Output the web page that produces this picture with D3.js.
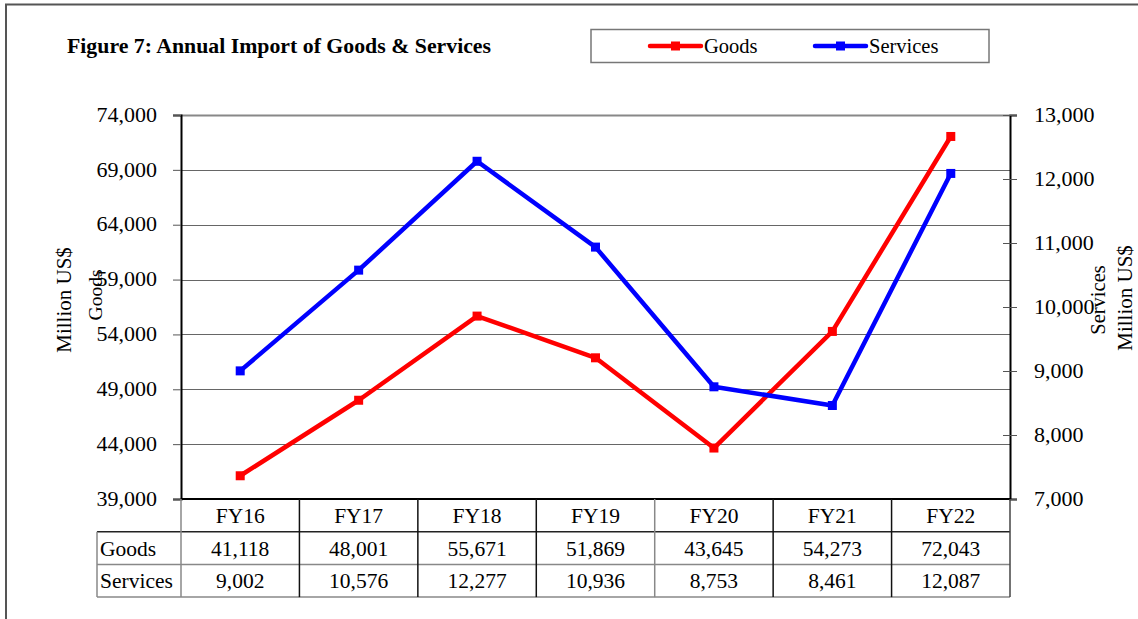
<!DOCTYPE html>
<html>
<head>
<meta charset="utf-8">
<script src="https://cdn.jsdelivr.net/npm/d3@7"></script>
<style>
  body { margin: 0; background: #fff; }
  svg { display: block; font-family: "Liberation Serif", "Times New Roman", serif; }
</style>
</head>
<body>
<svg id="chart" width="1138" height="619"></svg>
<script>
// data
const years = ["FY16", "FY17", "FY18", "FY19", "FY20", "FY21", "FY22"];
const goods = [41118, 48001, 55671, 51869, 43645, 54273, 72043];
const services = [9002, 10576, 12277, 10936, 8753, 8461, 12087];
const goodsTicks = [39000, 44000, 49000, 54000, 59000, 64000, 69000, 74000];
const servicesTicks = [7000, 8000, 9000, 10000, 11000, 12000, 13000];

const format = d3.format(",d");

//plot box
const plotLeft = 181, plotRight = 1010, plotTop = 115, plotBottom = 499;
const rowH = 32.7;
const fs = 21.5;

const svg = d3.select("#chart");

// outer frame (only top + left visible)
svg.append("path")
  .attr("d", "M6,619V4.5H1138")
  .attr("fill", "none").attr("stroke", "#555").attr("stroke-width", 2);

svg.append("text")
  .attr("x", 67).attr("y", 53)
  .attr("font-size", 21.8).attr("font-weight", "bold")
  .text("Figure 7: Annual Import of Goods & Services");

//scales
const x = d3.scaleBand().domain(years).range([plotLeft, plotRight]);
const yG = d3.scaleLinear().domain([39000, 74000]).range([plotBottom, plotTop]);
const yS = d3.scaleLinear().domain([7000, 13000]).range([plotBottom, plotTop]);

// gridlines
svg.append("g").selectAll("line")
  .data(goodsTicks.slice(1))
  .join("line")
  .attr("x1", plotLeft).attr("x2", plotRight)
  .attr("y1", d => Math.round(yG(d)) + 0.5).attr("y2", d => Math.round(yG(d)) + 0.5)
  .attr("stroke", d => d === 74000 ? "#888" : "#666")
  .attr("stroke-width", d => d === 74000 ? 2 : 1);

// left axis
const axL = svg.append("g")
  .attr("transform", `translate(${plotLeft},0)`)
  .call(d3.axisLeft(yG).tickValues(goodsTicks).tickFormat(format).tickSize(8).tickPadding(16));
axL.select(".domain").attr("stroke", "#000").attr("stroke-width", 2);
axL.selectAll(".tick line").attr("stroke", "#555");
axL.selectAll("text").attr("font-size", fs + 0.5).attr("fill", "#000")
  .attr("font-family", "Liberation Serif").attr("dy", "0.28em");

// right axis, ticks cross the line
const axR = svg.append("g")
  .attr("transform", `translate(${plotRight},0)`)
  .call(d3.axisRight(yS).tickValues(servicesTicks).tickFormat(format).tickSize(7).tickPadding(17));
axR.select(".domain").attr("stroke", "#000").attr("stroke-width", 2);
axR.selectAll(".tick line").attr("x1", -7).attr("stroke", "#555");
axR.selectAll("text").attr("font-size", fs + 0.5).attr("fill", "#000")
  .attr("font-family", "Liberation Serif").attr("dy", "0.3em");

// axis titles
const title = (tx, ty, txt, size) => svg.append("text")
  .attr("transform", `translate(${tx},${ty}) rotate(-90)`)
  .attr("text-anchor", "middle").attr("font-size", size).text(txt);
title(71, 300, "Million US$", 21);
title(102, 295, "Goods", 19.5);
title(1105, 300, "Services", 20.5);
title(1132, 298, "Million US$", 21);

// lines
const cx = d => x(d) + x.bandwidth() / 2;
const series = [
  { name: "Goods", values: goods, y: yG, color: "#ff0000" },
  { name: "Services", values: services, y: yS, color: "#0000ff" }
];
series.forEach(s => {
  const line = d3.line().x((d, i) => cx(years[i])).y(d => s.y(d));
  svg.append("path")
    .datum(s.values)
    .attr("d", line)
    .attr("fill", "none").attr("stroke", s.color).attr("stroke-width", 4.5)
    .attr("stroke-linejoin", "round");
  svg.append("g").selectAll("rect")
    .data(s.values)
    .join("rect")
    .attr("x", (d, i) => cx(years[i]) - 4.5).attr("y", d => s.y(d) - 4.5)
    .attr("width", 9).attr("height", 9)
    .attr("fill", s.color);
});

// data table
const tbl = svg.append("g");
const labelLeft = 97;
const rows = [
  { label: "Goods", values: goods },
  { label: "Services", values: services }
];
// horizontal rules
tbl.append("line").attr("x1", plotLeft).attr("x2", plotRight).attr("y1", plotBottom).attr("y2", plotBottom)
  .attr("stroke", "#000").attr("stroke-width", 2);
[1, 2, 3].forEach(r => {
  tbl.append("line")
    .attr("x1", labelLeft).attr("x2", plotRight)
    .attr("y1", plotBottom + r * rowH).attr("y2", plotBottom + r * rowH)
    .attr("stroke", r === 1 ? "#222" : "#888").attr("stroke-width", 1.5);
});
// vertical rules
years.forEach(yr => {
  tbl.append("line")
    .attr("x1", x(yr)).attr("x2", x(yr)).attr("y1", plotBottom).attr("y2", plotBottom + 3 * rowH)
    .attr("stroke", yr === "FY16" || yr === "FY20" ? "#888" : "#111").attr("stroke-width", 1.5);
});
tbl.append("line").attr("x1", plotRight).attr("x2", plotRight).attr("y1", plotBottom).attr("y2", plotBottom + 3 * rowH)
  .attr("stroke", "#444").attr("stroke-width", 1.5);
tbl.append("line").attr("x1", labelLeft).attr("x2", labelLeft).attr("y1", plotBottom + rowH).attr("y2", plotBottom + 3 * rowH)
  .attr("stroke", "#888").attr("stroke-width", 1.5);

tbl.selectAll("text.hdr")
  .data(years)
  .join("text")
  .attr("x", d => cx(d)).attr("y", plotBottom + rowH / 2 + 7.5)
  .attr("text-anchor", "middle").attr("font-size", fs)
  .text(d => d);

rows.forEach((row, r) => {
  const yy = plotBottom + (r + 1) * rowH + rowH / 2 + 7.5;
  tbl.append("text").attr("x", labelLeft + 3).attr("y", yy)
    .attr("font-size", fs).text(row.label);
  tbl.append("g").selectAll("text")
    .data(row.values)
    .join("text")
    .attr("x", (d, i) => cx(years[i])).attr("y", yy)
    .attr("text-anchor", "middle").attr("font-size", fs)
    .text(d => format(d));
});

// legend
const leg = svg.append("g");
leg.append("rect").attr("x", 591).attr("y", 29.5).attr("width", 398).attr("height", 33)
  .attr("fill", "none").attr("stroke", "#777").attr("stroke-width", 1.5);
const legItems = leg.selectAll("g")
  .data(series)
  .join("g")
  .attr("transform", (d, i) => `translate(${650 + i * 165},46)`);
legItems.append("line").attr("x1", 0).attr("x2", 51)
  .attr("stroke", d => d.color).attr("stroke-width", 4.5).attr("stroke-linecap", "round");
legItems.append("rect").attr("x", 21).attr("y", -4.5).attr("width", 9).attr("height", 9)
  .attr("fill", d => d.color);
legItems.append("text").attr("x", 54).attr("y", 6.5).attr("font-size", 20.5)
  .text(d => d.name);
</script>
</body>
</html>
